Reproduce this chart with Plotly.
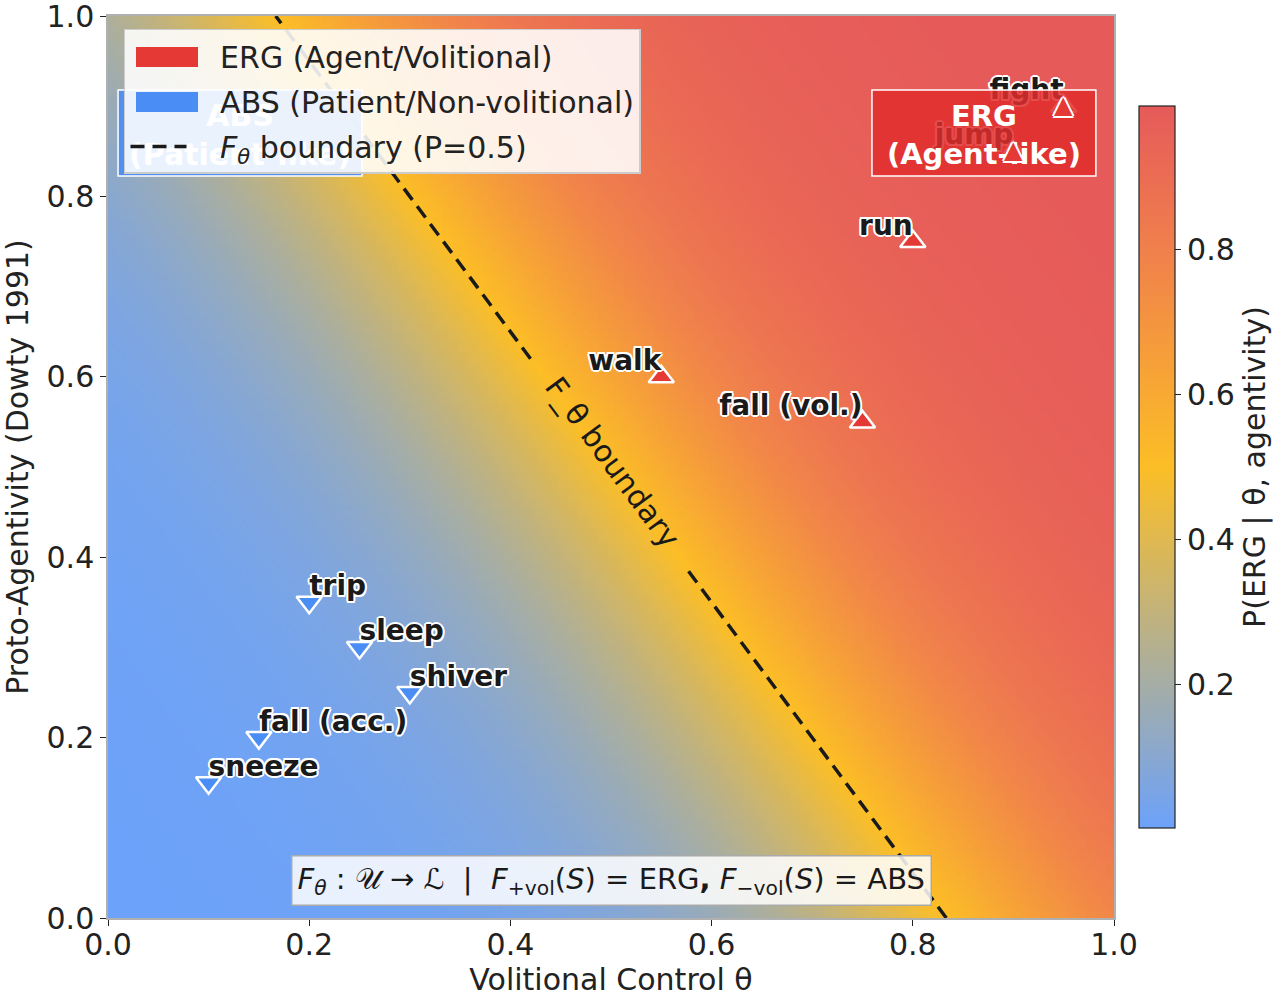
import numpy as np
import plotly.graph_objects as go

# ---------------- data ----------------
abs_verbs = ["trip", "sleep", "shiver", "fall (acc.)", "sneeze"]
abs_theta = [0.20, 0.25, 0.30, 0.15, 0.10]
abs_agent = [0.35, 0.30, 0.25, 0.20, 0.15]

erg_verbs = ["walk", "fall (vol.)", "run", "fight", "jump"]
erg_theta = [0.55, 0.75, 0.80, 0.95, 0.90]
erg_agent = [0.60, 0.55, 0.75, 0.90, 0.85]

# logistic model P(ERG | theta, agentivity) = sigmoid(w_theta*theta + w_agent*a + bias)
w_theta = 7.2
w_agent = 4.8
bias = -6.0

tick_vals = [0.0, 0.2, 0.4, 0.6, 0.8, 1.0]
cbar_ticks = [0.2, 0.4, 0.6, 0.8]

legend_names = ["ERG (Agent/Volitional)", "ABS (Patient/Non-volitional)",
                "<i>F</i><sub><i>θ</i></sub> boundary (P=0.5)"]

FONT = "DejaVu Sans"
ERG_COL = "#e53935"
ABS_COL = "#4a8df5"
NB = "\u00a0"

# region boxes (axes coordinates)
ABS_BOX = dict(x0=0.010, x1=0.2525, y0=0.8226, y1=0.918)
ERG_BOX = dict(x0=0.7594, x1=0.982, y0=0.8226, y1=0.918)

# ---------------- field ----------------
grid = np.linspace(0, 1, 201)
TH, AG = np.meshgrid(grid, grid)
P = 1.0 / (1.0 + np.exp(-(w_theta * TH + w_agent * AG + bias)))

colorscale = [
    [0.0, "rgb(108,162,250)"],
    [0.5, "rgb(252,190,38)"],
    [0.8, "rgb(240,128,76)"],
    [1.0, "rgb(230,90,90)"],
]

fig = go.Figure()
fig.add_trace(go.Heatmap(
    x=grid, y=grid, z=P, colorscale=colorscale, zmin=P.min(), zmax=P.max(),
    showscale=True, hoverinfo="skip", showlegend=False,
    colorbar=dict(
        x=1.0249, xanchor="left", xpad=0, ypad=0, y=0.5, yanchor="middle",
        len=0.8, lenmode="fraction", thickness=36,
        outlinecolor="#222", outlinewidth=1.2,
        tickvals=cbar_ticks, ticktext=[f"{v:.1f}" for v in cbar_ticks],
        ticks="outside", ticklen=6, tickcolor="#222",
        tickfont=dict(family=FONT, size=30, color="#222"),
        title=dict(text="P(ERG | θ, agentivity)", side="right",
                   font=dict(family=FONT, size=30, color="#222")),
    ),
))

# decision boundary P = 0.5  (theta as function of agentivity), gap for inline label
def boundary_theta(a):
    return (-bias - w_agent * a) / w_theta

gap_lo, gap_hi = 0.39, 0.62
bx = [boundary_theta(0.0), boundary_theta(gap_lo), None, boundary_theta(gap_hi), boundary_theta(1.0)]
by = [0.0, gap_lo, None, gap_hi, 1.0]
fig.add_trace(go.Scatter(
    x=bx, y=by, mode="lines", connectgaps=False,
    line=dict(color="#1a1a1a", width=3.5, dash="14px,8px"),
    name=NB * 3 + legend_names[2], legendrank=3, legendgroup="c", hoverinfo="skip",
))

# markers
fig.add_trace(go.Scatter(
    x=abs_theta, y=abs_agent, mode="markers", showlegend=False, hoverinfo="skip",
    marker=dict(symbol="triangle-down", size=22, color=ABS_COL, line=dict(color="white", width=2.5)),
))
fig.add_trace(go.Scatter(
    x=erg_theta, y=erg_agent, mode="markers", showlegend=False, hoverinfo="skip",
    marker=dict(symbol="triangle-up", size=22, color=ERG_COL, line=dict(color="white", width=2.5)),
))

shadow = ("2px 0 0 #fff, -2px 0 0 #fff, 0 2px 0 #fff, 0 -2px 0 #fff, "
          "1.5px 1.5px 0 #fff, -1.5px -1.5px 0 #fff, 1.5px -1.5px 0 #fff, -1.5px 1.5px 0 #fff")
fig.add_trace(go.Scatter(
    x=abs_theta, y=abs_agent, mode="text", text=abs_verbs, textposition="top right",
    textfont=dict(family=FONT, size=28, color="#1a1a1a", weight="bold", shadow=shadow),
    showlegend=False, hoverinfo="skip",
))
fig.add_trace(go.Scatter(
    x=erg_theta, y=erg_agent, mode="text", text=erg_verbs, textposition="top left",
    textfont=dict(family=FONT, size=28, color="#1a1a1a", weight="bold", shadow=shadow),
    showlegend=False, hoverinfo="skip",
))

# legend proxies (symbols drawn as patches below)
fig.add_trace(go.Scatter(x=[None], y=[None], mode="lines", line=dict(color="rgba(0,0,0,0)", width=1),
                         name=NB * 3 + legend_names[0], legendrank=1, legendgroup="a"))
fig.add_trace(go.Scatter(x=[None], y=[None], mode="lines", line=dict(color="rgba(0,0,0,0)", width=1),
                         name=NB * 3 + legend_names[1], legendrank=2, legendgroup="b"))

# legend patches
for yc, col in [(0.9546, ERG_COL), (0.9047, ABS_COL)]:
    fig.add_annotation(x=0.0586, y=yc, xref="paper", yref="paper", text=" ", showarrow=False,
                       width=62, height=20, bgcolor=col, borderpad=0, borderwidth=0,
                       xanchor="center", yanchor="middle")

# region boxes
fig.add_shape(type="rect", xref="x", yref="y", **ABS_BOX,
              fillcolor="rgba(74,141,245,0.9)", line=dict(color="white", width=1.5), layer="above",
              label=dict(text="<b>ABS</b><br><b>(Patient-like)</b>", textposition="middle center",
                         font=dict(family=FONT, size=30, color="white")))
fig.add_shape(type="rect", xref="x", yref="y", **ERG_BOX,
              fillcolor="rgba(225,45,45,0.85)", line=dict(color="white", width=1.5), layer="above",
              label=dict(text="<b>ERG</b><br><b>(Agent-like)</b>", textposition="middle center",
                         font=dict(family=FONT, size=29, color="white")))

# ERG markers that sit under the ERG box are re-drawn on top of it
tri_shadow = ("2px 0 0 #fff, -2px 0 0 #fff, 0 2px 0 #fff, 0 -2px 0 #fff, "
              "1.5px 1.5px 0 #fff, -1.5px -1.5px 0 #fff, 1.5px -1.5px 0 #fff, -1.5px 1.5px 0 #fff")
for tx, ay in zip(erg_theta, erg_agent):
    if ERG_BOX["x0"] <= tx <= ERG_BOX["x1"] and ERG_BOX["y0"] <= ay <= ERG_BOX["y1"]:
        fig.add_annotation(x=tx, y=ay, xref="x", yref="y", text="▲", showarrow=False,
                           font=dict(family=FONT, size=24, color=ERG_COL, shadow=tri_shadow),
                           yshift=1)

# inline boundary label
fig.add_annotation(x=boundary_theta(0.505) + 0.005, y=0.505, text="F_θ boundary", showarrow=False,
                   textangle=53.5, font=dict(family=FONT, size=30, color="#1a1a1a"))

# formula box
fig.add_annotation(
    x=0.5, y=0.042, xref="x", yref="y", showarrow=False,
    text=("<i>F</i><sub><i>θ</i></sub> : 𝒰 → ℒ  |  <i>F</i><sub>+vol</sub>(<i>S</i>) = ERG<b>,</b> "
          "<i>F</i><sub>−vol</sub>(<i>S</i>) = ABS"),
    font=dict(family=FONT, size=29, color="#1a1a1a"),
    bgcolor="rgba(255,255,255,0.85)", bordercolor="#aaaaaa", borderwidth=1.5, borderpad=5,
)

axis_common = dict(
    range=[0, 1], tickvals=tick_vals, ticktext=[f"{v:.1f}" for v in tick_vals],
    ticks="outside", ticklen=6, tickcolor="#222", showgrid=False, zeroline=False,
    showline=True, linecolor="#b0b0b0", linewidth=1.5, mirror=True, automargin=False,
    ticklabeloverflow="allow",
    tickfont=dict(family=FONT, size=30, color="#222"),
)
fig.update_xaxes(**axis_common, ticklabelstandoff=-7,
                 title=dict(text="Volitional Control θ", standoff=6,
                            font=dict(family=FONT, size=30, color="#222")))
fig.update_yaxes(**axis_common,
                 title=dict(text="Proto-Agentivity (Dowty 1991)", standoff=14,
                            font=dict(family=FONT, size=30, color="#222")))

fig.update_layout(
    width=1288, height=998,
    margin=dict(l=108, r=174, t=16, b=80, autoexpand=False),
    paper_bgcolor="white", plot_bgcolor="white",
    font=dict(family=FONT, size=30, color="#222"),
    legend=dict(x=0.0159, y=0.9856, xanchor="left", yanchor="top",
                bgcolor="rgba(255,255,255,0.88)", bordercolor="#cccccc", borderwidth=1.5,
                font=dict(family=FONT, size=30, color="#222"), itemwidth=56,
                tracegroupgap=3),
)

fig.write_html("out.html", post_script="document.body.style.margin='0';",
               config={"displayModeBar": False})
